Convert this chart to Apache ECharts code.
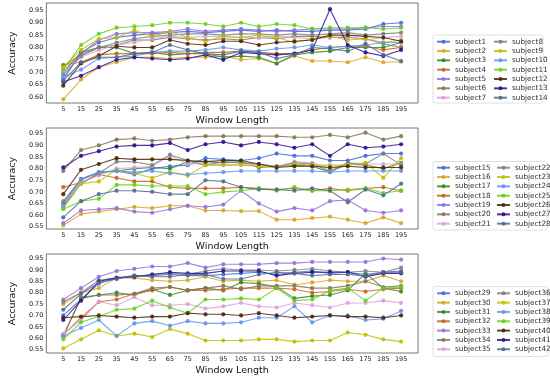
<!DOCTYPE html>
<html><head><meta charset="utf-8">
<script src="https://cdn.jsdelivr.net/npm/echarts@6/dist/echarts.min.js"></script>
<style>html,body{margin:0;padding:0;background:#fff}#c{width:550px;height:377px}</style>
</head><body><div id="c"></div>
<script>
const windowLengths = [5,15,25,35,45,55,65,75,85,95,105,115,125,135,145,155,165,175,185,195];
const yTickLabels = ['0.55','0.60','0.65','0.70','0.75','0.80','0.85','0.90','0.95'];

// Panel 1
const subject1 = [0.67,0.78,0.82,0.84,0.85,0.855,0.86,0.865,0.86,0.865,0.87,0.865,0.87,0.865,0.865,0.87,0.87,0.875,0.895,0.90];
const subject2 = [0.59,0.67,0.72,0.74,0.76,0.76,0.755,0.76,0.76,0.765,0.75,0.755,0.735,0.765,0.745,0.745,0.74,0.76,0.74,0.742];
const subject3 = [0.70,0.78,0.80,0.80,0.775,0.78,0.77,0.775,0.775,0.76,0.765,0.76,0.735,0.77,0.78,0.785,0.80,0.80,0.80,0.82];
const subject4 = [0.73,0.74,0.77,0.775,0.775,0.775,0.78,0.775,0.78,0.78,0.785,0.78,0.775,0.775,0.79,0.80,0.805,0.805,0.79,0.80];
const subject5 = [0.675,0.775,0.83,0.855,0.86,0.86,0.865,0.875,0.865,0.87,0.875,0.87,0.865,0.87,0.875,0.875,0.875,0.88,0.885,0.885];
const subject6 = [0.725,0.77,0.80,0.81,0.83,0.83,0.84,0.835,0.83,0.835,0.83,0.84,0.835,0.845,0.845,0.84,0.84,0.835,0.815,0.80];
const subject7 = [0.70,0.76,0.79,0.81,0.82,0.835,0.845,0.84,0.845,0.845,0.84,0.84,0.845,0.84,0.835,0.84,0.845,0.83,0.84,0.845];
const subject8 = [0.69,0.765,0.80,0.82,0.835,0.845,0.85,0.855,0.855,0.85,0.855,0.855,0.85,0.855,0.85,0.855,0.86,0.85,0.855,0.86];
const subject9 = [0.72,0.79,0.835,0.84,0.87,0.845,0.865,0.84,0.825,0.845,0.84,0.85,0.84,0.82,0.835,0.845,0.83,0.835,0.82,0.83];
const subject10 = [0.68,0.71,0.755,0.76,0.765,0.78,0.785,0.785,0.79,0.80,0.79,0.785,0.795,0.80,0.81,0.80,0.805,0.81,0.82,0.82];
const subject11 = [0.71,0.81,0.855,0.88,0.885,0.89,0.90,0.90,0.895,0.885,0.90,0.885,0.895,0.89,0.875,0.88,0.88,0.88,0.875,0.88];
const subject12 = [0.645,0.735,0.765,0.805,0.80,0.80,0.83,0.815,0.81,0.825,0.825,0.81,0.82,0.825,0.83,0.85,0.85,0.845,0.84,0.825];
const subject13 = [0.66,0.685,0.72,0.75,0.76,0.755,0.75,0.755,0.77,0.75,0.78,0.775,0.77,0.775,0.79,0.955,0.81,0.78,0.765,0.79];
const subject14 = [0.665,0.74,0.76,0.76,0.775,0.78,0.81,0.79,0.775,0.77,0.785,0.78,0.755,0.77,0.80,0.795,0.785,0.815,0.77,0.745];

// Panel 2
const subject15 = [0.65,0.755,0.785,0.79,0.775,0.80,0.81,0.815,0.845,0.84,0.835,0.845,0.865,0.855,0.855,0.835,0.835,0.855,0.865,0.865];
const subject16 = [0.555,0.605,0.615,0.625,0.635,0.63,0.64,0.64,0.62,0.62,0.617,0.617,0.58,0.58,0.587,0.593,0.58,0.565,0.59,0.565];
const subject17 = [0.635,0.735,0.78,0.79,0.80,0.805,0.80,0.83,0.83,0.825,0.83,0.805,0.81,0.815,0.81,0.785,0.82,0.815,0.80,0.825];
const subject18 = [0.72,0.74,0.775,0.76,0.745,0.745,0.72,0.715,0.715,0.715,0.72,0.715,0.71,0.715,0.705,0.715,0.705,0.715,0.72,0.705];
const subject19 = [0.565,0.62,0.625,0.63,0.615,0.61,0.625,0.64,0.635,0.645,0.705,0.65,0.615,0.63,0.62,0.66,0.665,0.62,0.61,0.62];
const subject20 = [0.79,0.88,0.90,0.925,0.93,0.92,0.925,0.935,0.94,0.94,0.94,0.94,0.94,0.935,0.935,0.945,0.935,0.955,0.925,0.94];
const subject21 = [0.64,0.74,0.77,0.80,0.805,0.81,0.855,0.82,0.82,0.815,0.82,0.815,0.805,0.83,0.825,0.80,0.82,0.82,0.82,0.82];
const subject22 = [0.66,0.755,0.78,0.83,0.83,0.815,0.86,0.835,0.815,0.83,0.825,0.82,0.81,0.825,0.82,0.79,0.825,0.82,0.865,0.815];
const subject23 = [0.63,0.735,0.745,0.795,0.78,0.76,0.785,0.77,0.815,0.815,0.815,0.81,0.805,0.82,0.815,0.815,0.815,0.825,0.76,0.845];
const subject24 = [0.64,0.75,0.785,0.79,0.785,0.79,0.78,0.775,0.78,0.785,0.79,0.79,0.79,0.79,0.79,0.785,0.79,0.79,0.79,0.79];
const subject25 = [0.625,0.66,0.67,0.73,0.73,0.725,0.725,0.725,0.69,0.70,0.705,0.715,0.705,0.72,0.705,0.705,0.71,0.715,0.695,0.705];
const subject26 = [0.69,0.795,0.82,0.845,0.84,0.84,0.84,0.835,0.83,0.835,0.835,0.82,0.805,0.81,0.81,0.805,0.81,0.805,0.805,0.805];
const subject27 = [0.805,0.855,0.875,0.895,0.90,0.90,0.91,0.88,0.905,0.915,0.90,0.915,0.905,0.89,0.905,0.855,0.905,0.89,0.895,0.905];
const subject28 = [0.59,0.66,0.69,0.705,0.705,0.70,0.69,0.69,0.75,0.745,0.72,0.71,0.71,0.705,0.715,0.705,0.655,0.71,0.685,0.735];

// Panel 3
const subject29 = [0.70,0.77,0.84,0.865,0.875,0.875,0.88,0.875,0.875,0.88,0.885,0.89,0.88,0.89,0.895,0.885,0.89,0.88,0.89,0.895];
const subject30 = [0.75,0.80,0.82,0.865,0.865,0.855,0.85,0.855,0.87,0.85,0.855,0.85,0.855,0.835,0.845,0.855,0.85,0.85,0.875,0.85];
const subject31 = [0.61,0.775,0.79,0.80,0.79,0.815,0.79,0.81,0.82,0.81,0.845,0.84,0.825,0.775,0.785,0.79,0.81,0.885,0.82,0.805];
const subject32 = [0.615,0.69,0.76,0.77,0.795,0.81,0.825,0.81,0.81,0.815,0.82,0.82,0.82,0.815,0.80,0.805,0.815,0.805,0.815,0.82];
const subject33 = [0.77,0.82,0.87,0.895,0.905,0.915,0.915,0.93,0.91,0.925,0.925,0.925,0.93,0.93,0.935,0.935,0.935,0.935,0.95,0.945];
const subject34 = [0.61,0.78,0.79,0.79,0.795,0.82,0.825,0.81,0.82,0.83,0.815,0.83,0.83,0.83,0.82,0.82,0.83,0.85,0.825,0.83];
const subject35 = [0.62,0.68,0.76,0.745,0.78,0.745,0.745,0.75,0.73,0.74,0.755,0.74,0.735,0.755,0.745,0.735,0.755,0.755,0.765,0.755];
const subject36 = [0.76,0.80,0.855,0.865,0.87,0.88,0.885,0.88,0.895,0.905,0.90,0.90,0.895,0.90,0.905,0.895,0.89,0.895,0.89,0.91];
const subject37 = [0.555,0.595,0.635,0.61,0.62,0.605,0.64,0.62,0.59,0.59,0.59,0.595,0.595,0.585,0.59,0.59,0.625,0.615,0.595,0.585];
const subject38 = [0.61,0.645,0.68,0.61,0.665,0.675,0.655,0.675,0.665,0.665,0.67,0.69,0.69,0.74,0.67,0.70,0.70,0.68,0.685,0.72];
const subject39 = [0.595,0.67,0.695,0.725,0.73,0.765,0.735,0.71,0.77,0.77,0.775,0.77,0.82,0.765,0.77,0.81,0.82,0.765,0.82,0.825];
const subject40 = [0.69,0.695,0.70,0.695,0.69,0.695,0.695,0.71,0.705,0.705,0.70,0.71,0.70,0.69,0.695,0.70,0.695,0.695,0.69,0.70];
const subject41 = [0.68,0.765,0.85,0.865,0.87,0.88,0.89,0.885,0.885,0.895,0.895,0.895,0.875,0.885,0.89,0.89,0.89,0.87,0.885,0.885];
const subject42 = [0.725,0.795,0.845,0.86,0.875,0.87,0.87,0.88,0.88,0.86,0.86,0.88,0.89,0.885,0.875,0.88,0.88,0.875,0.89,0.89];

const panels = [
  [subject1,subject2,subject3,subject4,subject5,subject6,subject7,subject8,subject9,subject10,subject11,subject12,subject13,subject14],
  [subject15,subject16,subject17,subject18,subject19,subject20,subject21,subject22,subject23,subject24,subject25,subject26,subject27,subject28],
  [subject29,subject30,subject31,subject32,subject33,subject34,subject35,subject36,subject37,subject38,subject39,subject40,subject41,subject42]
];

const colors = ['#4169e1','#daa520','#2e8b2e','#c8641e','#9370db','#8b7355','#dda0dd','#808080','#bfbf00','#6495ed','#66d01a','#4b2508','#2a0f90','#4f6d8a'];

const FONT = 'DejaVu Sans';
const gridsPos = [
  {top:3, height:100},
  {top:128, height:101},
  {top:254, height:102}
];
const yRanges = [[0.575,0.98],[0.54,0.975],[0.535,0.97]];
const legendTops = [37.2, 163.2, 288.8];
const legendCol2 = [493, 496, 496];
const boxes = [[433,35,110,68],[433,161.5,114,68.5],[433,286.5,115,70]];

const grid = [], xAxis = [], yAxis = [], series = [], legend = [], graphic = [];
gridsPos.forEach((g,p) => {
  grid.push({left:28, right:132, top:g.top, height:g.height, show:true, borderColor:'#555', borderWidth:0.8, backgroundColor:'transparent'});
  xAxis.push({
    type:'value', gridIndex:p, min:-4.5, max:204.5, interval:0.5,
    axisLine:{show:false}, axisTick:{show:false}, splitLine:{show:false},
    axisLabel:{fontFamily:FONT, fontSize:6.5, color:'#222', margin:3,
      formatter:v=>{const r=Math.round(v*10); return (r%100===50 && r>0 && r<2000)? String(r/10):'';}},
    name:'Window Length', nameLocation:'middle', nameGap:13,
    nameTextStyle:{fontFamily:FONT, fontSize:9.5, color:'#111'}
  });
  yAxis.push({
    type:'value', gridIndex:p, min:yRanges[p][0], max:yRanges[p][1], interval:0.005,
    axisLine:{show:false}, axisTick:{show:false}, splitLine:{show:false},
    axisLabel:{fontFamily:FONT, fontSize:6.5, color:'#222', margin:3,
      formatter:v=>{const r=Math.round(v*1000); if(r%50!==0) return ''; const s=(r/1000).toFixed(2); return yTickLabels.includes(s)?s:'';}},
    name:'Accuracy', nameLocation:'middle', nameGap:19,
    nameTextStyle:{fontFamily:FONT, fontSize:9.5, color:'#111'}
  });
  const names = [];
  panels[p].forEach((vals,i) => {
    const name = 'subject' + (p*14 + i + 1);
    names.push(name);
    series.push({
      name, type:'line', xAxisIndex:p, yAxisIndex:p,
      data: windowLengths.map((x,k)=>[x, vals[k]]),
      symbol:'circle', symbolSize:4.2, showSymbol:true,
      lineStyle:{width:1.1, color:colors[i], opacity:0.85},
      itemStyle:{color:colors[i], opacity:0.9},
      emphasis:{disabled:true}, animation:false, z:2
    });
  });
  graphic.push({type:'rect', shape:{x:boxes[p][0], y:boxes[p][1], width:boxes[p][2], height:boxes[p][3], r:2},
    style:{fill:'#fff', stroke:'#d8d8d8', lineWidth:0.8}, z:-1});
  const common = {orient:'vertical', top:legendTops[p], padding:0, itemGap:0.33, itemWidth:13, itemHeight:5,
    textStyle:{fontFamily:FONT, fontSize:7.3, color:'#333', lineHeight:9}, selectedMode:false};
  legend.push(Object.assign({left:436, data:names.slice(0,7)}, common));
  legend.push(Object.assign({left:legendCol2[p], data:names.slice(7)}, common));
});

const chart = echarts.init(document.getElementById('c'), null, {renderer:'canvas'});
chart.setOption({animation:false, backgroundColor:'#fff', grid, xAxis, yAxis, series, legend, graphic});
</script>
</body></html>
